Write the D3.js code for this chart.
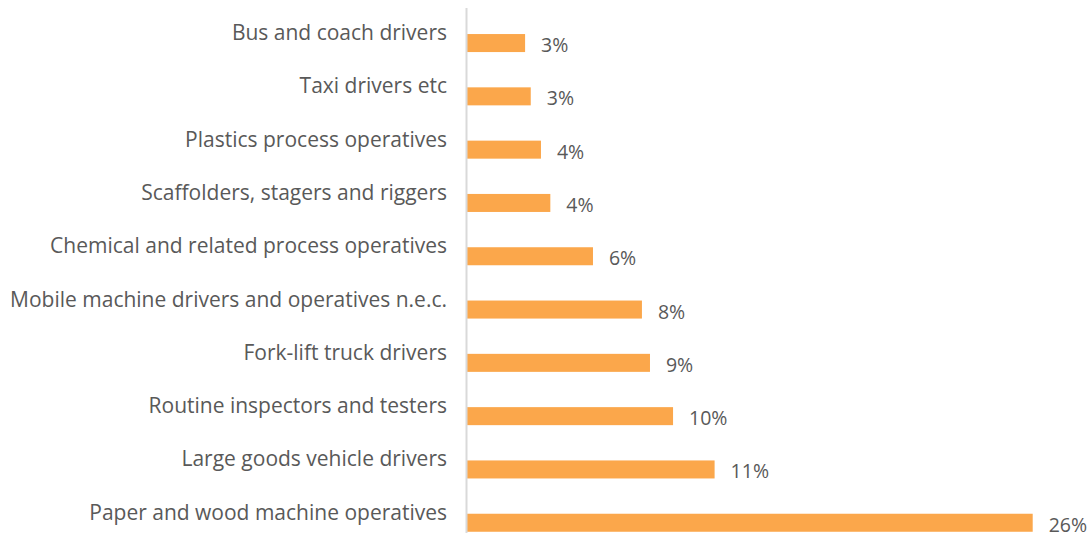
<!DOCTYPE html>
<html>
<head>
<meta charset="utf-8">
<script src="https://cdn.jsdelivr.net/npm/d3@7"></script>
<style>
  html, body { margin: 0; padding: 0; background: #fff; }
  svg { display: block; }
  text { font-family: "Open Sans", "Lato", sans-serif; fill: #595959; }
</style>
</head>
<body>
<svg id="chart" width="1090" height="533"></svg>
<script>
const categories = [
  "Bus and coach drivers",
  "Taxi drivers etc",
  "Plastics process operatives",
  "Scaffolders, stagers and riggers",
  "Chemical and related process operatives",
  "Mobile machine drivers and operatives n.e.c.",
  "Fork-lift truck drivers",
  "Routine inspectors and testers",
  "Large goods vehicle drivers",
  "Paper and wood machine operatives"
];
const values = [2.67, 2.93, 3.4, 3.83, 5.79, 8.04, 8.41, 9.47, 11.38, 26.0];
const valueLabels = ["3%", "3%", "4%", "4%", "6%", "8%", "9%", "10%", "11%", "26%"];

const svg = d3.select("#chart");
const W = 1090, H = 533;

const x = d3.scaleLinear().domain([0, 26]).range([467, 1032.7]);
const y = d3.scaleBand().domain(categories).range([16.4, 549.4])
  .paddingInner(0.662).paddingOuter(0.331);

// bars
svg.append("g").selectAll("rect")
  .data(categories)
  .join("rect")
  .attr("x", x(0))
  .attr("y", d => y(d))
  .attr("width", (d, i) => x(values[i]) - x(0))
  .attr("height", y.bandwidth())
  .attr("fill", "#FBA74B");

// vertical axis line
svg.append("line")
  .attr("x1", x(0) - 0.5).attr("x2", x(0) - 0.5)
  .attr("y1", 8).attr("y2", H)
  .attr("stroke", "#d9d9d9").attr("stroke-width", 2);

// category labels via axis
const axis = d3.axisLeft(y).tickSize(0).tickPadding(20);
const gAxis = svg.append("g").attr("transform", `translate(${x(0)},0)`).call(axis);
gAxis.select(".domain").remove();
gAxis.selectAll("text")
  .attr("font-size", 21)
  .attr("dy", "-3px")
  .style("font-family", '"Open Sans", "Lato", sans-serif')
  .attr("fill", "#595959");

// value labels
svg.append("g").selectAll("text")
  .data(categories)
  .join("text")
  .attr("x", (d, i) => x(values[i]) + 16)
  .attr("y", (d, i) => y(d) + y.bandwidth() / 2 + 9)
  .attr("font-size", 19.5)
  .text((d, i) => valueLabels[i]);
</script>
</body>
</html>
